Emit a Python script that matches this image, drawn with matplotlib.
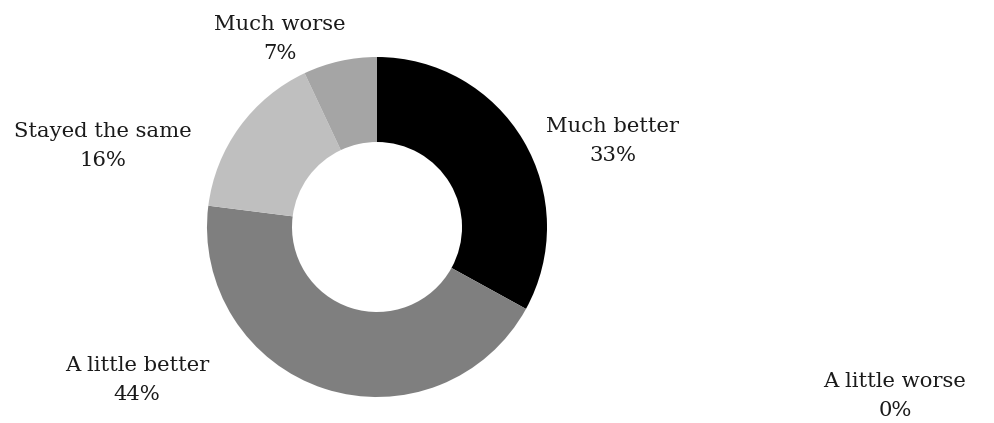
import matplotlib
matplotlib.use('Agg')
import matplotlib.pyplot as plt

categories = ['Much better', 'A little better', 'Stayed the same', 'Much worse', 'A little worse']
values = [33, 44, 16, 7, 0]
colors = ['#000000', '#7f7f7f', '#bfbfbf', '#a5a5a5', '#d9d9d9']

# label centres in pixels (x, y from top)
label_pos = [(613, 141), (137, 380), (103, 146), (280, 39), (895, 396)]

W, H = 995, 423
fig = plt.figure(figsize=(W / 100, H / 100), dpi=100)

cx, cy, r = 377, 227, 170
ax = fig.add_axes([(cx - r) / W, (H - cy - r) / H, 2 * r / W, 2 * r / H])
ax.pie(values, colors=colors, startangle=90, counterclock=False,
       radius=1, wedgeprops=dict(width=0.5, linewidth=0))
ax.set_xlim(-1, 1)
ax.set_ylim(-1, 1)
ax.set_aspect('equal')
ax.axis('off')

for cat, v, (px, py) in zip(categories, values, label_pos):
    fig.text(px / W, 1 - py / H, f'{cat}\n{v}%', ha='center', va='center',
             fontsize=15.2, family='DejaVu Serif', color='#1a1a1a', linespacing=1.65)

fig.savefig('out.png', dpi=100)
